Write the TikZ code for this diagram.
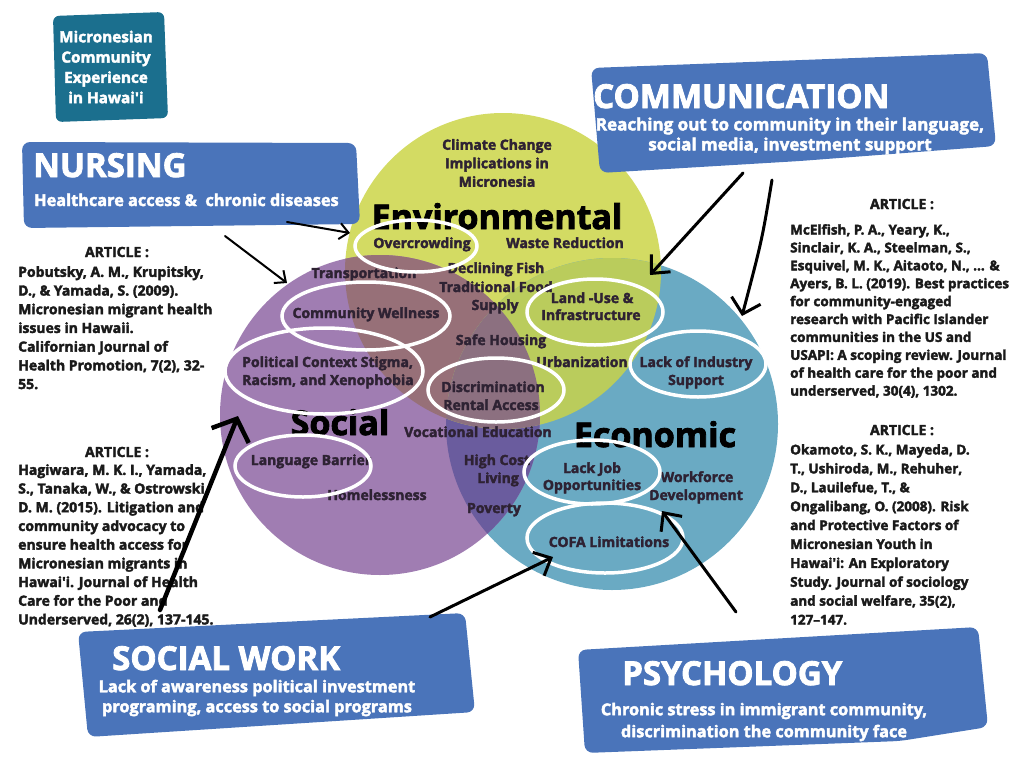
\documentclass[tikz,border=0pt]{standalone}
\usepackage{fontspec}
\setmainfont{Open Sans}[BoldFeatures={FakeBold=2.5}]
\usetikzlibrary{arrows.meta}
\definecolor{envcol}{HTML}{D3DB63}
\definecolor{soccol}{HTML}{A07DB2}
\definecolor{ecocol}{HTML}{6AAAC3}
\definecolor{socenv}{HTML}{977078}
\definecolor{enveco}{HTML}{BACC5C}
\definecolor{soceco}{HTML}{6A5C9E}
\definecolor{allthree}{HTML}{8C7080}
\definecolor{boxcol}{HTML}{4A74BA}
\definecolor{titlecol}{HTML}{1B6F8E}
\definecolor{labelcol}{HTML}{2E2233}
\definecolor{artcol}{HTML}{1A1A1A}
\tikzset{
  lbl/.style={font=\bfseries\fontsize{14}{18.5}\selectfont, text=labelcol, align=center, inner sep=0pt},
  catlbl/.style={font=\bfseries\fontsize{34}{36}\selectfont, text=black, anchor=base, inner sep=0pt},
  ring/.style={draw=white, line width=3.5pt},
  band/.style={fill=boxcol, rounded corners=8pt},
  hdr/.style={font=\bfseries\fontsize{33}{36}\selectfont, text=white, anchor=base west, inner sep=0pt},
  sub/.style={font=\bfseries\fontsize{16.3}{20}\selectfont, text=white, align=center, inner sep=0pt},
  arthd/.style={font=\bfseries\fontsize{14}{18}\selectfont, text=artcol, anchor=base, inner sep=0pt},
  art/.style={font=\bfseries\fontsize{14}{18.7}\selectfont, text=artcol, align=left, anchor=north west, inner sep=0pt},
  arr/.style={-{Straight Barb[length=9pt,width=16pt]}, line width=2pt, line cap=round, black},
}
\begin{document}
\begin{tikzpicture}[x=1pt,y=-1pt]
\useasboundingbox (0,0) rectangle (1024,768);

% the three circles
\coordinate (envc) at (503,271);
\coordinate (socc) at (380,415);
\coordinate (ecoc) at (612,424);
\fill[envcol] (envc) circle[radius=158];
\fill[ecocol] (ecoc) circle[radius=166];
\fill[soccol] (socc) circle[radius=160];
\begin{scope}
  \clip (socc) circle[radius=160];
  \fill[socenv] (envc) circle[radius=158];
  \fill[soceco] (ecoc) circle[radius=166];
\end{scope}
\begin{scope}
  \clip (envc) circle[radius=158];
  \fill[enveco] (ecoc) circle[radius=166];
\end{scope}
\begin{scope}
  \clip (socc) circle[radius=160];
  \clip (envc) circle[radius=158];
  \fill[allthree] (ecoc) circle[radius=166];
\end{scope}

% category names
\node[catlbl] (envname) at (497,229) {Environmental};
\node[catlbl] (socname) at (340,435) {Social};
\node[catlbl] (econame) at (655,447) {Economic};

% labels in the circles
\node[lbl] (climate) at (497,163) {Climate Change\\Implications in\\Micronesia};
\node[lbl, anchor=base] (overcrowd) at (422,248) {Overcrowding};
\node[lbl, anchor=base] (waste) at (565,248) {Waste Reduction};
\node[lbl, anchor=base] (transport) at (364,278) {Transportation};
\node[lbl, anchor=base] (fish) at (496,273) {Declining Fish};
\node[lbl, anchor=base] (food) at (496,292) {Traditional Food};
\node[lbl, anchor=base] (supply) at (495,310) {Supply};
\node[lbl, anchor=base] (wellness) at (366,318) {Community Wellness};
\node[lbl, anchor=base] (landuse) at (592,303) {Land -Use \&};
\node[lbl, anchor=base] (infra) at (591,320) {Infrastructure};
\node[lbl, anchor=base] (housing) at (501,345) {Safe Housing};
\node[lbl, anchor=base west] (political) at (242,367) {Political Context Stigma,};
\node[lbl, anchor=base west] (racism) at (242,385) {Racism, and Xenophobia};
\node[lbl, anchor=base] (urban) at (582,367) {Urbanization};
\node[lbl, anchor=base] (industry) at (696,367) {Lack of Industry};
\node[lbl, anchor=base] (support) at (696,385) {Support};
\node[lbl, anchor=base] (discrim) at (493,392) {Discrimination};
\node[lbl, anchor=base] (rental) at (491,410) {Rental Access};
\node[lbl, anchor=base] (vocation) at (478,437) {Vocational Education};
\node[lbl, anchor=base] (language) at (311,465) {Language Barrier};
\node[lbl, anchor=base] (highcost) at (497,465) {High Cost};
\node[lbl, anchor=base] (living) at (498,483) {Living};
\node[lbl, anchor=base] (lackjob) at (592,473) {Lack Job};
\node[lbl, anchor=base] (opport) at (592,490) {Opportunities};
\node[lbl, anchor=base] (workforce) at (697,482) {Workforce};
\node[lbl, anchor=base] (develop) at (696,500) {Development};
\node[lbl, anchor=base] (homeless) at (377,500) {Homelessness};
\node[lbl, anchor=base] (poverty) at (494,513) {Poverty};
\node[lbl, anchor=base] (cofa) at (609,547) {COFA Limitations};

% white rings
\draw[ring] (416,246) ellipse[x radius=61, y radius=26];
\draw[ring] (366,316) ellipse[x radius=84, y radius=34];
\draw[ring] (324,371) ellipse[x radius=99, y radius=43];
\draw[ring] (595,312) ellipse[x radius=68, y radius=33];
\draw[ring] (496,390) ellipse[x radius=68, y radius=32];
\draw[ring] (698,364) ellipse[x radius=68, y radius=33];
\draw[ring] (303,466) ellipse[x radius=68, y radius=31];
\draw[ring] (592,472) ellipse[x radius=68, y radius=32];
\draw[ring] (605,538) ellipse[x radius=78, y radius=35];

% title
\fill[titlecol, rounded corners=6pt] (53,16) -- (164,12) -- (168,118) -- (56,122) -- cycle;
\node[sub, font=\bfseries\fontsize{15.3}{20.3}\selectfont] (title) at (106,67)
  {Micronesian\\Community\\Experience\\in Hawai\textquotesingle i};

% discipline boxes
\fill[band] (22,142) -- (356,143) -- (360,224) -- (24,228) -- cycle;
\node[hdr] (nursehd) at (33,177) {NURSING};
\node[sub, anchor=base west] (nursesub) at (34,206) {Healthcare access \&\ \ chronic diseases};

\fill[band] (591,68) -- (987,53) -- (996,146) -- (800,161) -- (600,173) -- cycle;
\node[hdr] (commhd) at (593,108) {COMMUNICATION};
\node[sub, font=\bfseries\fontsize{17}{20}\selectfont] (commsub) at (790,136) {Reaching out to community in their language,\\social media, investment support};

\fill[band] (78,632) -- (465,613) -- (475,712) -- (88,737) -- cycle;
\node[hdr] (workhd) at (112,670) {SOCIAL WORK};
\node[sub] (worksub) at (257,698) {Lack of awareness political investment\\programing, access to social programs};

\fill[band] (578,650) -- (978,627) -- (988,727) -- (900,741) -- (585,753) -- cycle;
\node[hdr] (psychhd) at (622,685) {PSYCHOLOGY};
\node[sub, font=\bfseries\fontsize{16.3}{22}\selectfont] (psychsub) at (764,722) {Chronic stress in immigrant community,\\discrimination the community face};

% articles
\node[arthd] (arthdA) at (117,257) {ARTICLE :};
\node[art] (artA) at (18,266) {Pobutsky, A. M., Krupitsky,\\D., \& Yamada, S. (2009).\\Micronesian migrant health\\issues in Hawaii.\\Californian Journal of\\Health Promotion, 7(2), 32-\\55.};
\node[arthd] (arthdB) at (117,457) {ARTICLE :};
\node[art] (artB) at (18,464) {Hagiwara, M. K. I., Yamada,\\S., Tanaka, W., \& Ostrowski,\\D. M. (2015). Litigation and\\community advocacy to\\ensure health access for\\Micronesian migrants in\\Hawai\textquotesingle i. Journal of Health\\Care for the Poor and\\Underserved, 26(2), 137-145.};
\node[arthd] (arthdC) at (902,209) {ARTICLE :};
\node[art, font=\bfseries\fontsize{13.5}{17.9}\selectfont] (artC) at (790,224) {McElfish, P. A., Yeary, K.,\\Sinclair, K. A., Steelman, S.,\\Esquivel, M. K., Aitaoto, N., ... \&\\Ayers, B. L. (2019). Best practices\\for community-engaged\\research with Pacific Islander\\communities in the US and\\USAPI: A scoping review. Journal\\of health care for the poor and\\underserved, 30(4), 1302.};
\node[arthd] (arthdD) at (902,435) {ARTICLE :};
\node[art, font=\bfseries\fontsize{13.5}{18.9}\selectfont] (artD) at (790,444) {Okamoto, S. K., Mayeda, D.\\T., Ushiroda, M., Rehuher,\\D., Lauilefue, T., \&\\Ongalibang, O. (2008). Risk\\and Protective Factors of\\Micronesian Youth in\\Hawai\textquotesingle i: An Exploratory\\Study. Journal of sociology\\and social welfare, 35(2),\\127--147.};

% arrows
\coordinate (nurseA) at (287,222);
\coordinate (crowdtip) at (350,233);
\coordinate (nurseB) at (225,236);
\coordinate (soctip) at (287,283);
\coordinate (commA) at (743,173);
\coordinate (landtip) at (650,275);
\coordinate (commB) at (772,180);
\coordinate (ecotip) at (742,316);
\coordinate (litB) at (160,610);
\coordinate (poltip) at (238,416);
\coordinate (workA) at (430,617);
\coordinate (cofatip) at (553,557);
\coordinate (psychA) at (736,612);
\coordinate (worktip) at (662,511);

\draw[arr] (nurseA) -- (crowdtip);
\draw[arr] (nurseB) -- (soctip);
\draw[arr, line width=3pt, -{Straight Barb[length=14pt,width=26pt]}] (commA) -- (landtip);
\draw[arr, line width=3pt, -{Straight Barb[length=14pt,width=30pt]}] (commB) .. controls (762,240) .. (ecotip);
\draw[arr, line width=4.5pt, -{Straight Barb[length=18pt,width=40pt]}] (litB) -- (poltip);
\draw[arr, line width=3pt, -{Straight Barb[length=14pt,width=26pt]}] (workA) -- (cofatip);
\draw[arr, line width=3pt, -{Straight Barb[length=14pt,width=26pt]}] (psychA) -- (worktip);
\end{tikzpicture}
\end{document}
